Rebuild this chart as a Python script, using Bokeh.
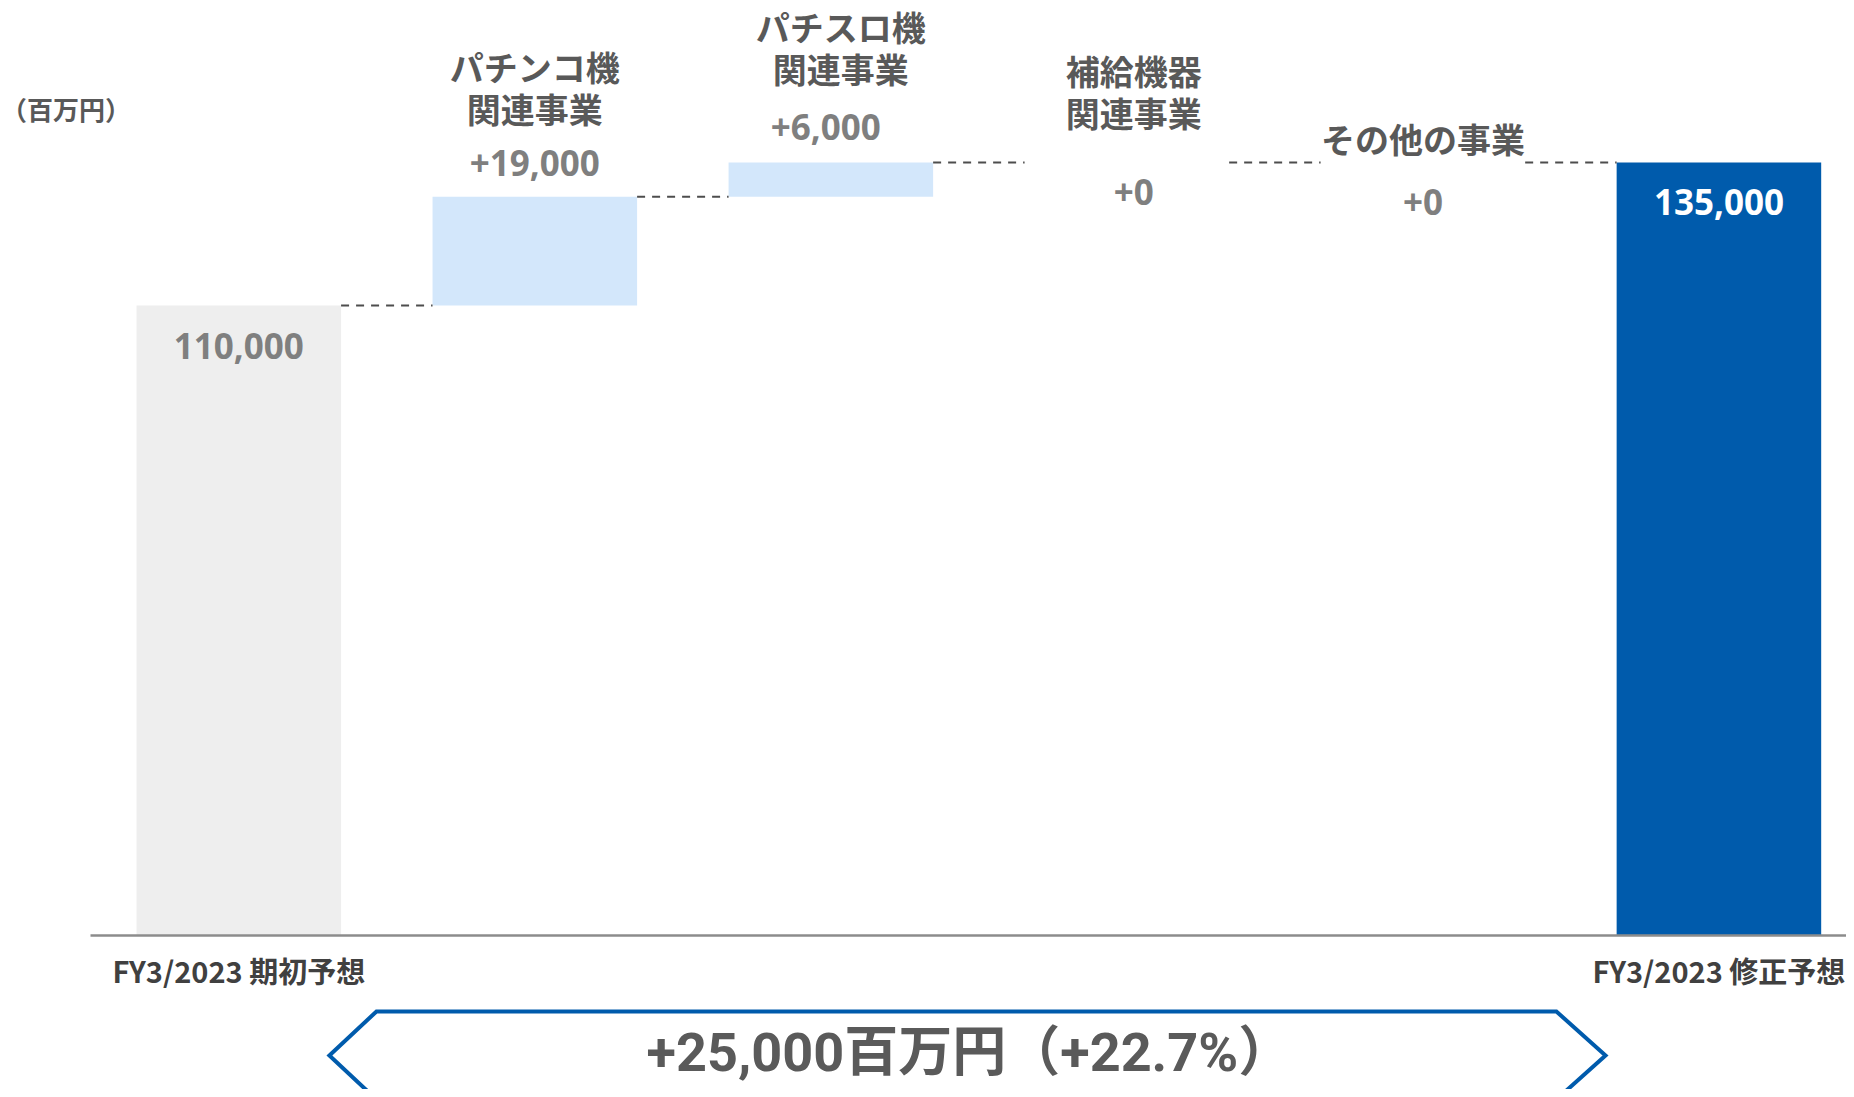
from bokeh.plotting import figure
from bokeh.models import Range1d, FixedTicker, ColumnDataSource
from bokeh.core.properties import value
from bokeh.embed import file_html
from bokeh.resources import INLINE

# ---- data ----
categories = ["FY3/2023 期初予想", "パチンコ機\n関連事業", "パチスロ機\n関連事業",
              "補給機器\n関連事業", "その他の事業", "FY3/2023 修正予想"]
start_value = 110000
deltas = [19000, 6000, 0, 0]
end_value = 135000
unit_label = "（百万円）"
change_label = "+25,000百万円（+22.7%）"

# ---- styles ----
GRAY_BAR = "#EEEEEE"
DELTA_BAR = "#D3E7FB"
END_BAR = "#005BAC"
TEXT_DARK = "#595959"
TEXT_NUM = "#7F7F7F"
BAR_W = 0.691

# ---- derived waterfall geometry ----
levels = [start_value]
for d in deltas:
    levels.append(levels[-1] + d)
n = len(categories)
xs = list(range(n))
bottoms = [0] + levels[:-1] + [0]
tops = [start_value] + levels[1:] + [end_value]
colors = [GRAY_BAR] + [DELTA_BAR] * len(deltas) + [END_BAR]

X0, X1 = -0.805, 5.431
p = figure(width=1846, height=1089, output_backend="svg", toolbar_location=None,
           x_range=Range1d(X0, X1), y_range=Range1d(-26829, 163257),
           tools="", min_border=0)
p.min_border_left = 0
p.min_border_right = 0
p.min_border_top = 0
p.min_border_bottom = 0
p.outline_line_color = None
p.background_fill_color = "white"
p.grid.visible = False
p.yaxis.visible = False

xa = p.xaxis[0]
xa.fixed_location = 0
xa.bounds = (-0.5, 5.6)
xa.ticker = FixedTicker(ticks=[0, n - 1])
xa.major_label_overrides = {0: categories[0], n - 1: categories[-1]}
xa.axis_line_color = "#8C8C8C"
xa.axis_line_width = 2.5
xa.major_tick_line_color = None
xa.minor_tick_line_color = None
xa.major_label_text_font = "Noto Sans CJK JP"
xa.major_label_text_font_size = "29px"
xa.major_label_text_font_style = "bold"
xa.major_label_text_color = "#404040"
xa.major_label_standoff = 7

bars = ColumnDataSource(dict(x=xs, bottom=bottoms, top=tops, color=colors))
p.vbar(x="x", bottom="bottom", top="top", width=BAR_W, fill_color="color",
       line_color=None, source=bars)

# connectors
cx0 = [i + BAR_W / 2 for i in range(n - 1)]
cx1 = [i + 1 - BAR_W / 2 for i in range(n - 1)]
p.segment(x0=cx0, y0=levels, x1=cx1, y1=levels, line_color="#4D4D4D",
          line_width=2, line_dash="8 7")

# value labels
val_text = [f"{start_value:,}"] + [f"+{d:,}" for d in deltas] + [f"{end_value:,}"]
val_y = [start_value] + [max(b, t) for b, t in zip(bottoms[1:-1], tops[1:-1])] + [end_value]
val_color = [TEXT_NUM] * (n - 1) + ["white"]
val_xo = [0, 0, -5, 7, 0, 0]
val_yo = [40, -34, -35, 30, 40, 40]
p.text(x="x", y="y", text="text", text_color="color", x_offset="xo", y_offset="yo",
       source=ColumnDataSource(dict(x=xs, y=val_y, text=val_text, color=val_color,
                                    xo=val_xo, yo=val_yo)),
       text_font=value("Open Sans"), text_font_size="35px", text_font_style="bold",
       text_align="center", text_baseline="middle")

# category names above the delta bars
mid = list(range(1, n - 1))
name_xo = [0, 10, 7, 0]
name_yo = [-109, -115, -71, -24]
p.text(x="x", y="y", text="text", x_offset="xo", y_offset="yo",
       source=ColumnDataSource(dict(x=mid, y=[val_y[i] for i in mid],
                                    text=[categories[i] for i in mid],
                                    xo=name_xo, yo=name_yo)),
       text_font=value("Noto Sans CJK JP"), text_font_size="34px",
       text_font_style="bold", text_color=TEXT_DARK, text_align="center",
       text_baseline="middle", text_line_height=0.85)

# unit label
p.text(x=[X0 + 0.002], y=[144406], text=[unit_label], text_font=value("Noto Sans CJK JP"),
       text_font_size="26px", text_font_style="bold", text_color=TEXT_DARK,
       text_align="left", text_baseline="middle")

# bottom banner arrow
p.patch(x=[0.306, 0.465, 4.451, 4.617, 4.451, 0.465],
        y=[-20894, -13213, -13213, -20894, -28575, -28575],
        fill_color=None, line_color=END_BAR, line_width=4, line_join="miter")
p.text(x=[2.468], y=[-20370], text=[change_label],
       text_font=value("Roboto, 'Noto Sans CJK JP'"), text_font_size="54px",
       text_font_style="bold", text_color="#5A5A5A", text_align="center",
       text_baseline="middle")

open("out.html", "w").write(file_html(p, INLINE))
